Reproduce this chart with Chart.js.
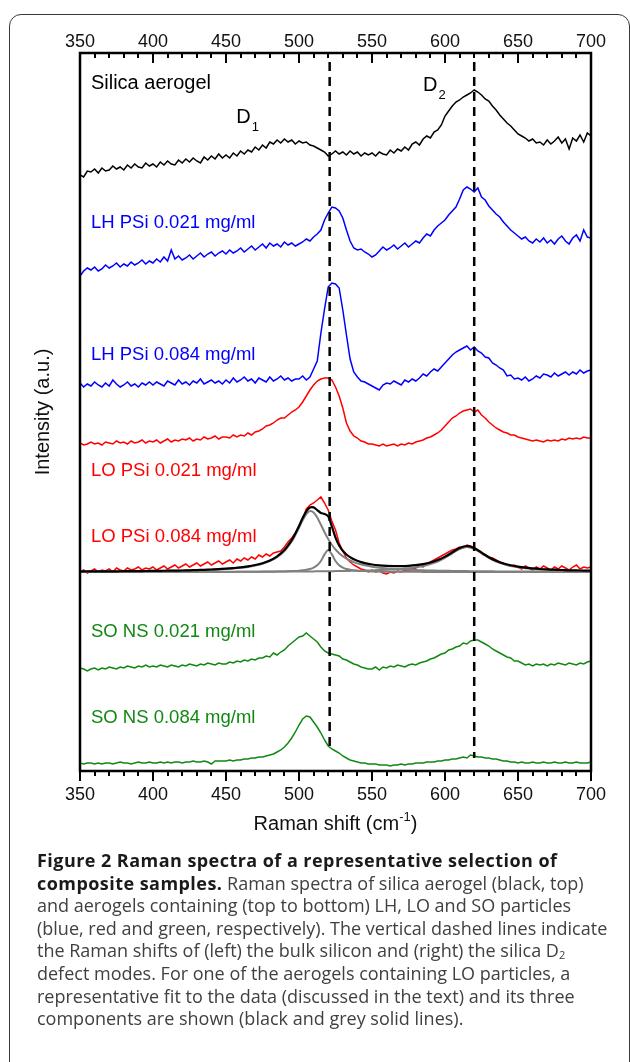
<!DOCTYPE html>
<html>
<head>
<meta charset="utf-8">
<script src="https://cdn.jsdelivr.net/npm/chart.js@4.4.0/dist/chart.umd.min.js"></script>
<style>
html,body{margin:0;padding:0;background:#fff;width:630px;height:1062px;overflow:hidden;}
#frame{position:absolute;left:9px;top:14px;width:621px;height:1100px;border:1.5px solid #3a3a3a;border-radius:12px;box-sizing:border-box;}
#wrap{position:absolute;left:0;top:0;width:630px;height:850px;}
#caption{position:absolute;left:37px;top:849px;font-family:"Open Sans",sans-serif;font-size:18px;line-height:22.6px;color:#404040;white-space:nowrap;}
#caption b{color:#1a1a1a;font-weight:700;letter-spacing:0.45px;}
#caption sub{font-size:11px;vertical-align:-2px;line-height:0;}
</style>
</head>
<body>
<div id="frame"></div>
<div id="wrap"><canvas id="c"></canvas></div>
<div id="caption">
<div><b>Figure 2 Raman spectra of a representative selection of</b></div>
<div><b>composite samples.</b> Raman spectra of silica aerogel (black, top)</div>
<div>and aerogels containing (top to bottom) LH, LO and SO particles</div>
<div>(blue, red and green, respectively). The vertical dashed lines indicate</div>
<div>the Raman shifts of (left) the bulk silicon and (right) the silica D<sub>2</sub></div>
<div>defect modes. For one of the aerogels containing LO particles, a</div>
<div>representative fit to the data (discussed in the text) and its three</div>
<div>components are shown (black and grey solid lines).</div>
</div>
<script>
// ---------- data (Raman shift in cm^-1, intensity in arbitrary stacked units) ----------
const wavenumbers = [
350,352.5,355,357.5,360,362.5,365,367.5,370,372.5,375,377.5,380,382.5,385,387.5,390,392.5,395,397.5,
400,402.5,405,407.5,410,412.5,415,417.5,420,422.5,425,427.5,430,432.5,435,437.5,440,442.5,445,447.5,
450,452.5,455,457.5,460,462.5,465,467.5,470,472.5,475,477.5,480,482.5,485,487.5,490,492.5,495,497.5,
500,502.5,505,507.5,510,512.5,515,517.5,520,522.5,525,527.5,530,532.5,535,537.5,540,542.5,545,547.5,
550,552.5,555,557.5,560,562.5,565,567.5,570,572.5,575,577.5,580,582.5,585,587.5,590,592.5,595,597.5,
600,602.5,605,607.5,610,612.5,615,617.5,620,622.5,625,627.5,630,632.5,635,637.5,640,642.5,645,647.5,
650,652.5,655,657.5,660,662.5,665,667.5,670,672.5,675,677.5,680,682.5,685,687.5,690,692.5,695,697.5,
700];

const silicaAerogel = [
596,594,600,599,602,598,603,600,601,605,602,604,601,606,603,607,604,603,608,605,
607,604,609,606,610,607,606,611,608,612,609,613,610,608,614,611,615,612,617,613,
616,613,618,615,620,617,621,619,624,621,626,623,629,627,631,628,632,629,631,627,
630,628,629,626,625,623,621,619,615,617,620,617,619,616,620,617,619,615,618,616,
618,615,619,617,616,621,618,622,620,624,621,627,629,626,632,635,633,639,641,646,
655,660,665,669,671,674,676,678,681,679,676,672,670,665,661,656,652,648,645,641,
637,635,633,630,632,628,629,626,631,627,630,634,628,632,622,633,630,636,629,638,
635];

const lhPSi021 = [
495,500,503,501,504,500,502,506,503,505,508,504,507,505,509,506,508,511,507,510,
508,512,509,514,510,521,512,515,511,513,516,512,515,518,514,517,519,515,518,520,
517,521,518,520,523,519,522,525,521,524,527,523,528,525,527,524,529,526,528,525,
527,529,532,530,534,537,541,551,558,564,563,560,553,541,530,523,521,522,519,517,
514,516,520,524,521,523,526,522,525,528,524,527,530,528,533,537,535,541,545,548,
551,556,560,564,572,581,584,582,579,583,574,571,565,561,557,554,549,545,541,538,
535,532,534,530,528,532,529,533,528,531,527,532,535,530,527,533,536,530,541,534,
533];

const lhPSi084 = [
388,384,387,385,389,386,384,388,385,391,387,384,386,389,385,387,384,388,386,389,
386,389,387,385,390,388,386,391,387,389,386,390,388,392,387,389,391,388,390,387,
391,388,393,389,391,394,390,392,388,393,391,389,394,390,392,395,391,393,390,392,
392,395,391,394,402,410,438,462,484,488,487,483,461,436,412,399,394,390,389,387,
385,383,381,386,388,387,390,388,386,391,389,392,390,393,397,395,399,402,400,404,
408,412,416,419,421,423,425,421,424,420,418,414,413,408,406,403,401,395,396,392,
393,391,394,390,392,395,393,397,396,394,398,395,397,399,396,399,397,401,398,400,
401];

const loPSi021 = [
328,326,327,329,327,328,326,329,328,327,330,328,329,327,330,328,329,331,328,330,
329,331,328,330,332,329,331,330,332,331,333,330,332,331,334,332,333,335,332,334,
334,333,336,334,336,335,338,336,339,340,342,345,346,348,351,353,353,356,359,361,
364,369,375,381,386,390,392,393,393,391,384,375,363,348,340,335,333,330,329,327,
327,326,325,327,325,326,327,325,327,326,328,327,329,330,331,333,334,336,338,341,
345,349,353,355,358,360,361,362,359,361,356,353,349,346,343,341,339,338,336,336,
334,333,332,331,330,331,330,329,331,330,331,330,332,331,333,332,333,332,334,333,
333];

const loPSi084 = [
199,201,198,200,202,199,201,200,202,199,203,201,200,203,201,202,204,201,203,202,
204,201,203,205,202,204,206,203,205,207,204,206,208,205,207,209,206,208,210,207,
209,211,208,212,210,213,211,214,212,216,214,217,215,218,219,220,224,229,233,238,
244,252,262,266,268,271,274,268,261,250,241,228,220,213,209,206,204,202,201,199,
201,199,200,198,197,199,198,200,199,201,200,202,203,205,204,207,209,211,213,215,
217,219,221,222,224,223,226,225,223,221,219,216,214,213,211,209,208,206,205,206,
204,202,205,203,201,204,202,205,203,201,204,202,205,203,201,204,206,202,204,203,
204];

const soNS021 = [
103,102,100,102,103,101,103,102,104,103,102,104,103,105,104,103,105,104,106,104,
105,104,106,105,104,106,105,104,106,105,107,106,105,107,106,108,107,106,108,107,
107,109,108,110,109,111,110,112,111,113,113,115,114,118,116,119,121,125,128,131,
134,135,138,135,132,129,124,120,118,117,116,115,112,111,109,107,106,104,103,102,
102,104,101,104,103,105,104,106,105,104,106,107,106,108,109,110,112,113,115,117,
118,121,122,124,125,128,127,130,131,131,129,127,125,122,120,118,116,114,113,110,
110,108,106,107,105,107,106,107,105,107,106,108,107,106,108,107,106,108,107,109,
110];

const soNS084 = [
8,7,8,8,7,8,7,8,8,7,8,9,8,8,7,8,9,8,8,9,
8,8,9,8,9,8,9,9,8,9,9,10,9,9,10,9,7,10,10,10,
10,11,10,11,11,12,12,13,13,14,14,15,16,17,19,21,24,28,33,39,
46,52,55,54,49,44,38,31,25,22,20,18,15,13,11,10,9,8,8,7,
7,7,6,6,6,5,6,6,7,6,7,7,8,8,8,9,9,9,10,10,
11,11,12,12,13,14,13,16,15,14,14,13,13,12,12,11,10,10,9,9,
8,9,8,8,9,8,8,9,8,8,9,8,8,9,8,8,9,8,8,8,
9];

// fit to LO PSi 0.084 mg/ml and its three components
const fitWavenumbers = [
350,355,360,365,370,375,380,385,390,395,
400,405,410,415,420,425,430,435,440,445,
450,455,460,465,470,475,480,485,490,495,
497.5,500,502.5,505,507.5,510,512.5,515,517.5,520,
522.5,525,527.5,530,532.5,535,537.5,540,542.5,545,
550,555,560,565,570,575,580,585,590,595,
600,605,610,615,620,625,630,635,640,645,
650,655,660,665,670,675,680,685,690,695,
700];

const fitTotal = [
199.5,199.6,199.6,199.6,199.7,199.7,199.8,199.8,199.9,200.0,
200.1,200.2,200.3,200.4,200.5,200.7,200.9,201.2,201.5,201.8,
202.3,202.9,203.6,204.6,206.0,207.8,210.5,214.7,220.9,230.8,
237.5,245.0,252.9,259.7,263.5,263.6,260.9,258.0,257.1,254.7,
244.6,233.4,225.5,220.2,216.5,213.8,211.7,210.2,208.9,207.9,
206.5,205.6,205.1,204.9,204.9,205.2,205.8,206.9,208.5,210.9,
214.4,218.7,223.1,225.0,222.9,218.4,213.8,210.2,207.5,205.7,
204.3,203.3,202.6,202.0,201.6,201.3,201.0,200.7,200.6,200.4,
200.3];

const fitComp1 = [
199.4,199.4,199.5,199.5,199.5,199.6,199.6,199.7,199.7,199.8,
199.9,200.0,200.1,200.2,200.3,200.5,200.7,200.9,201.2,201.5,
201.9,202.5,203.2,204.1,205.4,207.2,209.8,213.8,219.9,229.5,
235.9,243.2,250.7,256.9,259.9,258.6,253.5,246.3,238.8,231.9,
226.2,221.5,217.8,214.8,212.4,210.5,208.9,207.6,206.6,205.7,
204.3,203.3,202.6,202.0,201.6,201.2,200.9,200.7,200.5,200.3,
200.2,200.1,200.0,199.9,199.8,199.7,199.7,199.6,199.6,199.5,
199.5,199.5,199.4,199.4,199.4,199.4,199.4,199.3,199.3,199.3,
199.3];

const fitComp2 = [
199.0,199.0,199.0,199.0,199.0,199.0,199.0,199.0,199.0,199.0,
199.0,199.0,199.1,199.1,199.1,199.1,199.1,199.1,199.1,199.1,
199.1,199.1,199.2,199.2,199.2,199.3,199.3,199.4,199.6,199.9,
200.0,200.3,200.7,201.2,202.0,203.4,205.8,210.0,216.6,221.0,
216.6,210.0,205.8,203.4,202.0,201.2,200.7,200.3,200.0,199.9,
199.6,199.4,199.3,199.3,199.2,199.2,199.2,199.1,199.1,199.1,
199.1,199.1,199.1,199.1,199.1,199.0,199.0,199.0,199.0,199.0,
199.0,199.0,199.0,199.0,199.0,199.0,199.0,199.0,199.0,199.0,
199.0];

const fitComp3 = [
199.1,199.1,199.1,199.1,199.1,199.1,199.1,199.1,199.1,199.2,
199.2,199.2,199.2,199.2,199.2,199.2,199.2,199.2,199.2,199.3,
199.3,199.3,199.3,199.3,199.3,199.4,199.4,199.4,199.5,199.5,
199.5,199.5,199.6,199.6,199.6,199.6,199.7,199.7,199.7,199.8,
199.8,199.9,199.9,200.0,200.0,200.1,200.2,200.2,200.3,200.4,
200.6,200.9,201.2,201.6,202.1,202.8,203.8,205.1,206.9,209.5,
213.1,217.6,222.0,224.0,222.0,217.6,213.1,209.5,206.9,205.1,
203.8,202.8,202.1,201.6,201.2,200.9,200.6,200.4,200.2,200.1,
200.0];

// vertical reference lines: bulk Si and silica D2
const refShifts = [521, 620];
const refTop = [709, 709];
const refBottom = [23, 13];

// axis ticks
const tickValues = [350,400,450,500,550,600,650,700];
const minorStep = 10;
const yRange = [0, 718];

// text labels (data coordinates)
const spectrumLabels = [
  {text:'LH PSi 0.021 mg/ml', x:357.5, y:548, color:'#0000ff'},
  {text:'LH PSi 0.084 mg/ml', x:357.5, y:416, color:'#0000ff'},
  {text:'LO PSi 0.021 mg/ml', x:357.5, y:300, color:'#ff0000'},
  {text:'LO PSi 0.084 mg/ml', x:357.5, y:234, color:'#ff0000'},
  {text:'SO NS 0.021 mg/ml', x:357.5, y:139, color:'#118811'},
  {text:'SO NS 0.084 mg/ml', x:357.5, y:53, color:'#118811'}
];

// ---------- chart ----------
const FONT = '"Liberation Sans", Arial, Helvetica, sans-serif';
Chart.defaults.font.family = FONT;
Chart.defaults.color = '#111';

const pts = (xs, ys) => xs.map((x, i) => ({x, y: ys[i]}));
const line = (label, xs, ys, color, width, order, extra) => Object.assign({
  label, data: pts(xs, ys), borderColor: color, borderWidth: width,
  pointRadius: 0, fill: false, tension: 0, order
}, extra || {});

const datasets = [
  line('Silica aerogel', wavenumbers, silicaAerogel, '#000', 1.5, 5),
  line('LH PSi 0.021 mg/ml', wavenumbers, lhPSi021, '#0000ff', 1.5, 5),
  line('LH PSi 0.084 mg/ml', wavenumbers, lhPSi084, '#0000ff', 1.5, 5),
  line('LO PSi 0.021 mg/ml', wavenumbers, loPSi021, '#ff0000', 1.5, 5),
  line('LO PSi 0.084 mg/ml', wavenumbers, loPSi084, '#ff0000', 1.5, 4),
  line('fit component 1', fitWavenumbers, fitComp1, '#808080', 2, 3, {tension:0.3}),
  line('fit component 2', fitWavenumbers, fitComp2, '#808080', 2, 3, {tension:0.3}),
  line('fit component 3', fitWavenumbers, fitComp3, '#808080', 2, 3, {tension:0.3}),
  line('fit', fitWavenumbers, fitTotal, '#000', 2.2, 2, {tension:0.3}),
  line('SO NS 0.021 mg/ml', wavenumbers, soNS021, '#118811', 1.5, 5),
  line('SO NS 0.084 mg/ml', wavenumbers, soNS084, '#118811', 1.5, 5)
];
refShifts.forEach((s, i) => {
  datasets.push(line('ref ' + s, [s, s], [refTop[i], refBottom[i]], '#000', 2.5, 1, {borderDash:[9,6], borderCapStyle:'butt'}));
});

const deco = {
  id: 'deco',
  afterDatasetsDraw(chart) {
    const {ctx, chartArea: a, scales: {x, y}} = chart;
    ctx.save();
    // frame
    ctx.strokeStyle = '#000';
    ctx.lineWidth = 2.5;
    ctx.strokeRect(a.left, a.top, a.right - a.left, a.bottom - a.top);
    // tick marks (top: inward, bottom: outward)
    ctx.lineWidth = 2;
    ctx.beginPath();
    for (let v = tickValues[0]; v <= tickValues[tickValues.length - 1]; v += minorStep) {
      const px = Math.round(x.getPixelForValue(v));
      const len = tickValues.includes(v) ? 10 : 5;
      ctx.moveTo(px, a.top); ctx.lineTo(px, a.top + len);
      ctx.moveTo(px, a.bottom); ctx.lineTo(px, a.bottom + len);
    }
    ctx.stroke();
    // labels inside plot
    ctx.textBaseline = 'middle';
    ctx.textAlign = 'left';
    ctx.fillStyle = '#000';
    ctx.font = '20px ' + FONT;
    ctx.fillText('Silica aerogel', x.getPixelForValue(357.5), y.getPixelForValue(688));
    const sub = (main, s, xv, yv) => {
      const px = x.getPixelForValue(xv), py = y.getPixelForValue(yv);
      ctx.font = '20px ' + FONT;
      ctx.fillText(main, px, py);
      const w = ctx.measureText(main).width;
      ctx.font = '13px ' + FONT;
      ctx.fillText(s, px + w + 1, py + 10);
    };
    sub('D', '1', 457, 654);
    sub('D', '2', 585, 686);
    ctx.font = '18.5px ' + FONT;
    spectrumLabels.forEach(l => {
      ctx.fillStyle = l.color;
      ctx.fillText(l.text, x.getPixelForValue(l.x), y.getPixelForValue(l.y));
    });
    // x axis title with superscript
    ctx.fillStyle = '#111';
    ctx.textBaseline = 'alphabetic';
    const t1 = 'Raman shift (cm', t2 = '-1', t3 = ')';
    ctx.font = '20px ' + FONT;
    const w1 = ctx.measureText(t1).width, w3 = ctx.measureText(t3).width;
    ctx.font = '13px ' + FONT;
    const w2 = ctx.measureText(t2).width;
    let sx = (a.left + a.right) / 2 - (w1 + w2 + w3) / 2;
    const base = a.bottom + 59;
    ctx.font = '20px ' + FONT;
    ctx.fillText(t1, sx, base);
    ctx.font = '13px ' + FONT;
    ctx.fillText(t2, sx + w1, base - 9);
    ctx.font = '20px ' + FONT;
    ctx.fillText(t3, sx + w1 + w2, base);
    ctx.restore();
  }
};

new Chart(document.getElementById('c'), {
  type: 'line',
  data: {datasets},
  options: {
    responsive: true,
    maintainAspectRatio: false,
    animation: false,
    events: [],
    layout: {padding: {left: 0, right: 39, top: 0, bottom: 0}},
    plugins: {legend: {display: false}, tooltip: {enabled: false}},
    scales: {
      x: {
        type: 'linear', position: 'bottom', min: 350, max: 700,
        afterBuildTicks: s => { s.ticks = tickValues.map(v => ({value: v})); },
        ticks: {font: {size: 18}, color: '#111', padding: 13, maxRotation: 0, autoSkip: false},
        grid: {display: false, drawTicks: false},
        border: {display: false},
        afterFit: s => { s.height = 79; }
      },
      x2: {
        type: 'linear', position: 'top', min: 350, max: 700,
        afterBuildTicks: s => { s.ticks = tickValues.map(v => ({value: v})); },
        ticks: {font: {size: 18}, color: '#111', padding: 0, maxRotation: 0, autoSkip: false},
        grid: {display: false, drawTicks: false},
        border: {display: false},
        afterFit: s => { s.height = 53; }
      },
      y: {
        type: 'linear', min: yRange[0], max: yRange[1],
        ticks: {display: false},
        grid: {display: false, drawTicks: false},
        border: {display: false},
        title: {display: true, text: 'Intensity (a.u.)', font: {size: 20}, color: '#111', padding: {top: 31, bottom: 0}},
        afterFit: s => { s.width = 80; }
      }
    }
  },
  plugins: [deco]
});
</script>
</body>
</html>
